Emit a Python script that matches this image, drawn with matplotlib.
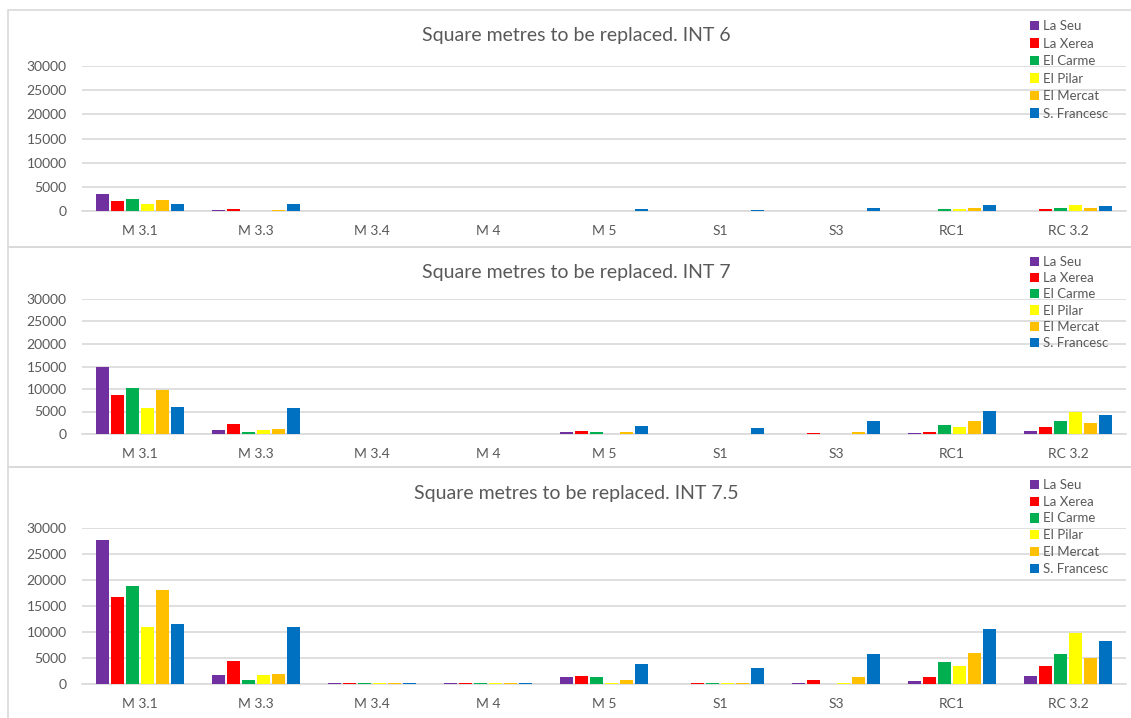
import numpy as np
import matplotlib
matplotlib.use("Agg")
import matplotlib.pyplot as plt
from matplotlib.patches import Rectangle, Patch

plt.rcParams['font.family'] = ['Lato', 'DejaVu Sans']

# Measures (x axis) and neighbourhoods (series)
categories = ['M 3.1', 'M 3.3', 'M 3.4', 'M 4', 'M 5', 'S1', 'S3', 'RC1', 'RC 3.2']
districts = ['La Seu', 'La Xerea', 'El Carme', 'El Pilar', 'El Mercat', 'S. Francesc']
colors = ['#7030A0', '#FF0000', '#00B050', '#FFFF00', '#FFC000', '#0070C0']

# square metres, INT 6
int6_seu = [3600, 120, 100, 100, 100, 100, 100, 100, 100]
int6_xerea = [2100, 450, 100, 100, 100, 100, 100, 100, 400]
int6_carme = [2400, 100, 100, 100, 100, 100, 0, 400, 700]
int6_pilar = [1400, 50, 80, 80, 80, 80, 50, 350, 1150]
int6_mercat = [2200, 200, 80, 80, 80, 80, 80, 550, 600]
int6_francesc = [1450, 1400, 100, 100, 350, 200, 550, 1150, 1000]

# square metres, INT 7
int7_seu = [14900, 960, 30, 30, 520, 40, 40, 220, 670]
int7_xerea = [8700, 2200, 30, 30, 750, 40, 220, 520, 1570]
int7_carme = [10150, 450, 30, 30, 520, 40, 0, 2000, 2900]
int7_pilar = [5850, 960, 30, 30, 30, 40, 0, 1650, 5000]
int7_mercat = [9800, 1100, 30, 30, 370, 40, 520, 2830, 2530]
int7_francesc = [6100, 5700, 30, 30, 1800, 1420, 2900, 5220, 4170]

# square metres, INT 7.5
int75_seu = [27640, 1660, 200, 200, 1280, 50, 200, 580, 1540]
int75_xerea = [16640, 4410, 200, 200, 1540, 200, 700, 1280, 3460]
int75_carme = [18870, 700, 200, 250, 1280, 200, 0, 4290, 5770]
int75_pilar = [10880, 1730, 200, 150, 200, 100, 100, 3460, 9810]
int75_mercat = [18100, 1980, 200, 200, 830, 200, 1350, 5900, 4940]
int75_francesc = [11580, 10880, 200, 200, 3850, 3140, 5770, 10640, 8270]

panels = [
    ('Square metres to be replaced. INT 6',
     [int6_seu, int6_xerea, int6_carme, int6_pilar, int6_mercat, int6_francesc]),
    ('Square metres to be replaced. INT 7',
     [int7_seu, int7_xerea, int7_carme, int7_pilar, int7_mercat, int7_francesc]),
    ('Square metres to be replaced. INT 7.5',
     [int75_seu, int75_xerea, int75_carme, int75_pilar, int75_mercat, int75_francesc]),
]

W, H = 1131, 718
GRID = '#D9D9D9'
TEXT = '#595959'

# pixel layout: chart box (top, bottom), plot area (top, bottom), title y, legend top, legend spacing
layout = [
    ((10, 247), (66, 211), 36, 20, 0.42),
    ((247, 467), (299, 434), 272, 256, 0.32),
    ((467, 740), (528, 684), 494, 479, 0.36),
]
plot_left, plot_right = 82, 1126

fig = plt.figure(figsize=(W / 100, H / 100), dpi=100)

x = np.arange(len(categories))
pitch = 0.129
width = 0.108

for (title, series), (box, area, ty, ly, lsp) in zip(panels, layout):
    # chart frame
    fig.patches.append(Rectangle((8 / W, 1 - box[1] / H), 1.2, (box[1] - box[0]) / H,
                                 transform=fig.transFigure, fill=False,
                                 edgecolor=GRID, linewidth=1.2))
    ax = fig.add_axes([plot_left / W, 1 - area[1] / H,
                       (plot_right - plot_left) / W, (area[1] - area[0]) / H])
    for i, (vals, c) in enumerate(zip(series, colors)):
        ax.bar(x + (i - 2.5) * pitch, vals, width, color=c, zorder=3)
    ax.set_xlim(-0.5, len(categories) - 0.5)
    ax.set_ylim(0, 30000)
    ax.set_yticks(range(0, 30001, 5000))
    ax.set_xticks(x)
    ax.set_xticklabels(categories)
    ax.grid(axis='y', color=GRID, linewidth=1.2, zorder=0)
    for s in ['top', 'right', 'left']:
        ax.spines[s].set_visible(False)
    ax.spines['bottom'].set_color(GRID)
    ax.spines['bottom'].set_linewidth(1.2)
    ax.tick_params(axis='both', length=0, colors=TEXT, labelsize=10)
    ax.tick_params(axis='x', pad=10)
    ax.tick_params(axis='y', pad=11)

    fig.text(576 / W, 1 - ty / H, title, ha='center', va='center',
             fontsize=14, color=TEXT)

    handles = [Patch(facecolor=c, edgecolor='none') for c in colors]
    fig.legend(handles, districts, loc='upper left',
               bbox_to_anchor=(1030 / W, 1 - ly / H), frameon=False,
               fontsize=9.5, labelcolor=TEXT, handlelength=0.7, handleheight=0.7,
               handletextpad=0.3, labelspacing=lsp, borderpad=0, borderaxespad=0)

fig.savefig('out.png', dpi=100, facecolor='white')
